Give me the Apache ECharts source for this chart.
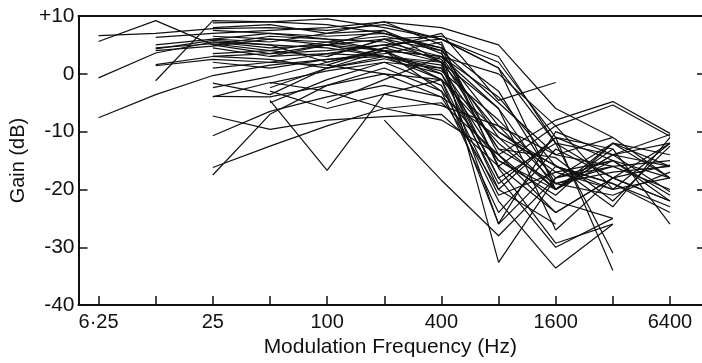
<!DOCTYPE html>
<html>
<head>
<meta charset="utf-8">
<script src="https://cdn.jsdelivr.net/npm/echarts@6/dist/echarts.min.js"></script>
<style>
html,body{margin:0;padding:0;background:#fff;}
#chart{width:702px;height:363px;}
</style>
</head>
<body>
<div id="chart"></div>
<script>
// Modulation frequencies (Hz), one per octave
const freqs = [6.25, 12.5, 25, 50, 100, 200, 400, 800, 1600, 3200, 6400];
const tickLabels = ['6·25', '25', '100', '400', '1600', '6400'];
const yTicks = ['+10', '0', '-10', '-20', '-30', '-40'];

// Gain (dB) per curve at each frequency above (null = not measured)
const c01 = [5.6, 9.2, 5.0, 3.5, 5.0, 6.0, 2.0, -10, -16, -20, null];
const c02 = [6.6, 7.0, 7.8, 8.0, 7.5, 8.5, 6.0, 1.0, -12, -14, -16];
const c03 = [-0.7, 3.6, 5.5, 4.5, 5.0, 4.0, 0.0, -15, -21, -12, -18];
const c04 = [-7.6, -3.6, -0.3, 1.5, 2.5, 3.0, 0.5, -8, -18, -15, -22];
const c05 = [null, -1.2, 9.2, 9.0, 8.5, 7.0, 4.0, -5, -14, -16, -20];
const c06 = [null, 4.5, 5.2, 4.0, 3.0, 6.0, 6.5, 3.0, -12, -18, null];
const c07 = [null, 4.3, 5.8, 5.0, 2.0, 4.5, 7.0, -4.6, -1.5, null, null];
const c08 = [null, 1.6, 3.0, 3.5, 4.0, 5.0, 6.0, 1.0, -20, -14, -10.5];
const c09 = [null, 1.4, 2.5, 2.0, 3.5, 3.0, 2.0, -6, -27, -18, -12];
const c10 = [null, 6.3, 7.0, 7.5, 8.0, 9.0, 8.0, 5.0, -6, -11, -18];
const c11 = [null, 4.0, 4.8, 6.0, 5.5, 4.0, 3.0, 0.0, -9, -20, -12];
const c12 = [null, null, -3.9, -4.0, -2.0, 0.0, -1.0, -12, -20, -15, null];
const c13 = [null, null, -1.6, -3.6, 1.0, 3.0, 1.0, -18, -30, -25, null];
const c14 = [null, null, -7.3, -9.6, -8.0, -7.4, -7.0, -16, -24, -18, -22];
const c15 = [null, null, -10.7, -6.5, -4.0, -2.0, -4.0, -20, -26, null, null];
const c16 = [null, null, -16.2, -12.5, -9.0, -6.0, -5.0, -14, -22, -25, null];
const c17 = [null, null, -17.5, -7.0, -2.0, 1.0, -3.0, -15, -20, -14, -12];
const c18 = [null, null, -2.4, -0.5, 2.0, 4.0, 3.0, -4, -16, -19, -23];
const c19 = [null, null, null, -1.6, 0.5, 2.0, 1.0, -13, -19, -17, -16];
const c20 = [null, null, null, -4.6, -16.7, -3.5, -1.0, -10, -17, -20, -18];
const c21 = [null, null, null, -2.4, 1.0, 2.6, 0.0, -19, -11, -13, null];
const c22 = [null, null, null, -5.0, -1.0, 2.0, -2.0, -22, -33.6, -26, null];
const c23 = [null, null, 8.8, 9.0, 9.5, 8.0, 6.0, 2.0, -11, -15, -21];
const c24 = [null, null, 6.0, 5.5, 7.0, 9.0, 5.0, -14, -8, -4.8, -10.3];
const c25 = [null, null, 3.5, 4.0, 5.5, 6.5, 4.5, -16, -9, -5.4, -10.8];
const c26 = [null, null, 7.5, 7.0, 6.0, 5.5, 3.0, -11, -15.8, -23, -11];
const c27 = [null, null, 4.5, 3.0, 3.5, 5.0, 2.5, -13, -14.5, -22, -12.5];
const c28 = [null, null, null, null, 3.0, 6.0, 4.0, -32.6, -18, -12, -16];
const c29 = [null, null, null, null, 1.5, 4.5, 2.0, -26, -16, -19, -24];
const c30 = [null, null, null, null, null, -8.0, -18.4, -28, -18, -16, -15];
const c31 = [null, null, 5.0, 6.5, 6.0, 4.0, -1.0, -25.9, -10, -14, -20.4];
const c32 = [null, null, 2.0, 1.0, 2.5, 3.5, 5.5, -16.3, -29.3, -26, null];
const c33 = [null, null, 8.0, 8.5, 7.0, 7.5, 2.0, -18, -12, -31, null];
const c34 = [null, null, 5.5, 5.0, 4.5, 3.0, 1.5, -20, -11, -34, null];
const c35 = [null, null, 1.0, 2.0, 1.5, 0.0, -4.0, -11, -20, -13, -26];
const c36 = [null, null, -4.0, -1.5, -3.0, -6.0, -8.0, -14, -24, -18, -15.8];
const c37 = [null, null, null, 3.0, 5.0, 7.5, 3.5, -9, -19, -16, null];
const c38 = [null, null, 6.5, 6.0, 5.0, 3.0, -1.0, -21, -17, -15, -18];
const c39 = [null, null, 3.0, 2.5, 1.0, 4.0, -3.0, -24, -13, -18, -22];
const c40 = [null, 5.0, 6.0, 7.0, 6.5, 7.0, 4.5, -3, -19, -21, -17];
const c41 = [null, null, null, -3.0, -6.0, -3.5, -5.5, -9, -14, -11, null];
const c42 = [null, null, null, null, -5.0, -1.0, 3.0, -6, -20, -12, -14];

const curves = [c01,c02,c03,c04,c05,c06,c07,c08,c09,c10,c11,c12,c13,c14,c15,c16,c17,c18,c19,c20,
  c21,c22,c23,c24,c25,c26,c27,c28,c29,c30,c31,c32,c33,c34,c35,c36,c37,c38,c39,c40,c41,c42];

// octave index relative to 6.25 Hz (log-2 frequency scale)
const oct = f => Math.log2(f / 6.25);

const FONT = "'Liberation Sans', Arial, sans-serif";
const series = curves.map(g => ({
  type: 'line',
  data: freqs.map((f, i) => g[i] == null ? null : [oct(f), g[i]]).filter(p => p),
  symbol: 'none',
  lineStyle: { color: '#111', width: 1.2 },
  silent: true
}));

const chart = echarts.init(document.getElementById('chart'), null, { renderer: 'canvas' });
chart.setOption({
  animation: false,
  backgroundColor: '#fff',
  grid: { left: 67, right: -1, top: 16, bottom: 49 },
  xAxis: [{
    type: 'value', position: 'bottom', min: -0.35, max: 10.56,
    axisLine: { show: true, onZero: false, lineStyle: { color: '#111', width: 2 } },
    axisTick: { show: true, inside: true, length: 9, customValues: freqs.map(oct), lineStyle: { color: '#111', width: 1.5 } },
    axisLabel: {
      show: true, margin: 7, customValues: [0, 2, 4, 6, 8, 10],
      formatter: v => tickLabels[Math.round(v / 2)],
      color: '#111', fontFamily: FONT, fontSize: 20
    },
    splitLine: { show: false },
    name: 'Modulation Frequency (Hz)', nameLocation: 'middle', nameGap: 24,
    nameTextStyle: { color: '#111', fontFamily: FONT, fontSize: 21 }
  }, {
    type: 'value', position: 'top', min: -0.35, max: 10.56,
    axisLine: { show: true, onZero: false, lineStyle: { color: '#111', width: 2 } },
    axisTick: { show: false }, axisLabel: { show: false }, splitLine: { show: false }
  }],
  yAxis: [{
    type: 'value', position: 'left', min: -40, max: 10, interval: 10,
    axisLine: { show: true, onZero: false, lineStyle: { color: '#111', width: 2 } },
    axisTick: { show: true, inside: true, length: 9, lineStyle: { color: '#111', width: 1.5 } },
    axisLabel: {
      margin: 4, color: '#111', fontFamily: FONT, fontSize: 21,
      formatter: v => yTicks[(10 - v) / 10]
    },
    splitLine: { show: false },
    name: 'Gain (dB)', nameLocation: 'middle', nameGap: 43,
    nameTextStyle: { color: '#111', fontFamily: FONT, fontSize: 20 }
  }, {
    type: 'value', position: 'right', min: -40, max: 10, interval: 10,
    axisLine: { show: false, onZero: false },
    axisTick: { show: true, inside: true, length: 5, lineStyle: { color: '#111', width: 1.5 } },
    axisLabel: { show: false }, splitLine: { show: false }
  }],
  series: series
});
</script>
</body>
</html>
